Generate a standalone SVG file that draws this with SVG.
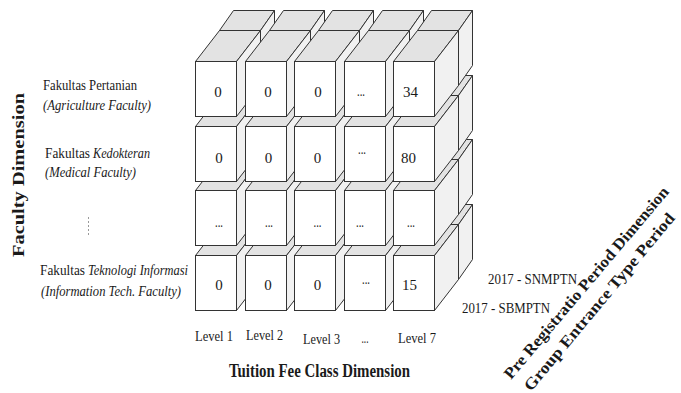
<svg xmlns="http://www.w3.org/2000/svg" xmlns:xlink="http://www.w3.org/1999/xlink" width="681" height="393" viewBox="0 0 681 393">
<style>
.f{fill:#ffffff;stroke:#333333;stroke-width:1}
.t{fill:#e3e3e3;stroke:#333333;stroke-width:1}
.s{fill:#f1f1f1;stroke:#333333;stroke-width:1}
text{font-family:"Liberation Serif","Times New Roman",serif;fill:#1a1a1a}
.v{font-size:15px;text-anchor:middle}
.lbl{font-size:15px}
.b{font-weight:bold}
.i{font-style:italic}
</style>
<defs>
<g id="cube">
<polygon class="t" points="0,0 24,-31 65,-31 41,0"/>
<polygon class="s" points="41,0 65,-31 65,24 41,55"/>
<rect class="f" x="0" y="0" width="41" height="55"/>
</g>
<g id="backcube">
<polygon class="t" points="0,0 14,-20 55,-20 41,0"/>
<polygon class="s" points="41,0 55,-20 55,35 41,55"/>
<rect class="f" x="0" y="0" width="41" height="55"/>
</g>
</defs>
<rect width="681" height="393" fill="#ffffff"/>

<g id="back-layer">
<use xlink:href="#backcube" x="219.5" y="224.5"/>
<use xlink:href="#backcube" x="269.5" y="224.5"/>
<use xlink:href="#backcube" x="318.5" y="224.5"/>
<use xlink:href="#backcube" x="368.5" y="224.5"/>
<use xlink:href="#backcube" x="417.5" y="224.5"/>
<use xlink:href="#backcube" x="219.5" y="159.5"/>
<use xlink:href="#backcube" x="269.5" y="159.5"/>
<use xlink:href="#backcube" x="318.5" y="159.5"/>
<use xlink:href="#backcube" x="368.5" y="159.5"/>
<use xlink:href="#backcube" x="417.5" y="159.5"/>
<use xlink:href="#backcube" x="219.5" y="95.5"/>
<use xlink:href="#backcube" x="269.5" y="95.5"/>
<use xlink:href="#backcube" x="318.5" y="95.5"/>
<use xlink:href="#backcube" x="368.5" y="95.5"/>
<use xlink:href="#backcube" x="417.5" y="95.5"/>
<use xlink:href="#backcube" x="219.5" y="30.5"/>
<use xlink:href="#backcube" x="269.5" y="30.5"/>
<use xlink:href="#backcube" x="318.5" y="30.5"/>
<use xlink:href="#backcube" x="368.5" y="30.5"/>
<use xlink:href="#backcube" x="417.5" y="30.5"/>
</g>

<g id="row4">
<g id="cell-4-1"><use xlink:href="#cube" x="195.5" y="255.5"/><text class="v" x="219" y="290">0</text></g>
<g id="cell-4-2"><use xlink:href="#cube" x="245.5" y="255.5"/><text class="v" x="268" y="290">0</text></g>
<g id="cell-4-3"><use xlink:href="#cube" x="294.5" y="255.5"/><text class="v" x="317.5" y="290">0</text></g>
<g id="cell-4-4"><use xlink:href="#cube" x="344.5" y="255.5"/><text class="v" x="366" y="284" textLength="8" lengthAdjust="spacingAndGlyphs">...</text></g>
<g id="cell-4-5"><use xlink:href="#cube" x="393.5" y="255.5"/><text class="v" x="409.5" y="290">15</text></g>
</g>
<g id="row3">
<g id="cell-3-1"><use xlink:href="#cube" x="195.5" y="190.5"/><text class="v" x="219" y="227" textLength="8" lengthAdjust="spacingAndGlyphs">...</text></g>
<g id="cell-3-2"><use xlink:href="#cube" x="245.5" y="190.5"/><text class="v" x="269" y="227" textLength="8" lengthAdjust="spacingAndGlyphs">...</text></g>
<g id="cell-3-3"><use xlink:href="#cube" x="294.5" y="190.5"/><text class="v" x="317.5" y="227" textLength="8" lengthAdjust="spacingAndGlyphs">...</text></g>
<g id="cell-3-4"><use xlink:href="#cube" x="344.5" y="190.5"/><text class="v" x="360" y="227" textLength="8" lengthAdjust="spacingAndGlyphs">...</text></g>
<g id="cell-3-5"><use xlink:href="#cube" x="393.5" y="190.5"/><text class="v" x="411" y="227" textLength="8" lengthAdjust="spacingAndGlyphs">...</text></g>
</g>
<g id="row2">
<g id="cell-2-1"><use xlink:href="#cube" x="195.5" y="126.5"/><text class="v" x="219" y="163">0</text></g>
<g id="cell-2-2"><use xlink:href="#cube" x="245.5" y="126.5"/><text class="v" x="268.5" y="163">0</text></g>
<g id="cell-2-3"><use xlink:href="#cube" x="294.5" y="126.5"/><text class="v" x="317.5" y="163">0</text></g>
<g id="cell-2-4"><use xlink:href="#cube" x="344.5" y="126.5"/><text class="v" x="362" y="154" textLength="8" lengthAdjust="spacingAndGlyphs">...</text></g>
<g id="cell-2-5"><use xlink:href="#cube" x="393.5" y="126.5"/><text class="v" x="408.5" y="163">80</text></g>
</g>
<g id="row1">
<g id="cell-1-1"><use xlink:href="#cube" x="195.5" y="61.5"/><text class="v" x="218" y="97">0</text></g>
<g id="cell-1-2"><use xlink:href="#cube" x="245.5" y="61.5"/><text class="v" x="268" y="97">0</text></g>
<g id="cell-1-3"><use xlink:href="#cube" x="294.5" y="61.5"/><text class="v" x="318" y="97">0</text></g>
<g id="cell-1-4"><use xlink:href="#cube" x="344.5" y="61.5"/><text class="v" x="361" y="96" textLength="8" lengthAdjust="spacingAndGlyphs">...</text></g>
<g id="cell-1-5"><use xlink:href="#cube" x="393.5" y="61.5"/><text class="v" x="410.5" y="97">34</text></g>
</g>

<g id="connectors">
<line x1="88.5" y1="217" x2="88.5" y2="237" stroke="#9a9a9a" stroke-width="1" stroke-dasharray="2,2"/>
</g>

<g id="faculty-labels">
<text class="lbl" x="43" y="90" textLength="94" lengthAdjust="spacingAndGlyphs">Fakultas Pertanian</text>
<text class="lbl i" x="43" y="110" textLength="108" lengthAdjust="spacingAndGlyphs">(Agriculture Faculty)</text>
<text class="lbl" x="45" y="158" textLength="45" lengthAdjust="spacingAndGlyphs">Fakultas</text>
<text class="lbl i" x="93" y="158" textLength="57" lengthAdjust="spacingAndGlyphs">Kedokteran</text>
<text class="lbl i" x="45" y="177" textLength="91" lengthAdjust="spacingAndGlyphs">(Medical Faculty)</text>
<text class="lbl" x="40" y="275" textLength="45" lengthAdjust="spacingAndGlyphs">Fakultas</text>
<text class="lbl i" x="88" y="275" textLength="100" lengthAdjust="spacingAndGlyphs">Teknologi Informasi</text>
<text class="lbl i" x="41" y="296" textLength="140" lengthAdjust="spacingAndGlyphs">(Information Tech. Faculty)</text>
</g>
<g id="faculty-axis">
<text class="b" transform="translate(24,175) rotate(-90)" x="0" y="0" text-anchor="middle" font-size="16" textLength="164" lengthAdjust="spacingAndGlyphs">Faculty Dimension</text>
</g>

<g id="level-labels">
<text class="lbl" x="195" y="340.5" textLength="38" lengthAdjust="spacingAndGlyphs">Level 1</text>
<text class="lbl" x="246" y="340" textLength="37" lengthAdjust="spacingAndGlyphs">Level 2</text>
<text class="lbl" x="303" y="344" textLength="37" lengthAdjust="spacingAndGlyphs">Level 3</text>
<text class="lbl" x="361.5" y="343" textLength="7" lengthAdjust="spacingAndGlyphs">...</text>
<text class="lbl" x="398" y="343" textLength="38" lengthAdjust="spacingAndGlyphs">Level 7</text>
</g>
<g id="tuition-axis">
<text class="b" x="229" y="377" font-size="18" textLength="181" lengthAdjust="spacingAndGlyphs">Tuition Fee Class Dimension</text>
</g>

<g id="period-labels">
<text class="lbl" x="488" y="284" textLength="89" lengthAdjust="spacingAndGlyphs">2017 - SNMPTN</text>
<text class="lbl" x="462" y="313" textLength="88" lengthAdjust="spacingAndGlyphs">2017 - SBMPTN</text>
</g>
<g id="period-axis">
<text class="b" transform="translate(511,380) rotate(-49.8)" x="0" y="0" font-size="16" textLength="246" lengthAdjust="spacingAndGlyphs">Pre Registratio Period Dimension</text>
<text class="b" transform="translate(531,392) rotate(-50.2)" x="0" y="0" font-size="16" textLength="226" lengthAdjust="spacingAndGlyphs">Group Entrance Type Period</text>
</g>
</svg>
